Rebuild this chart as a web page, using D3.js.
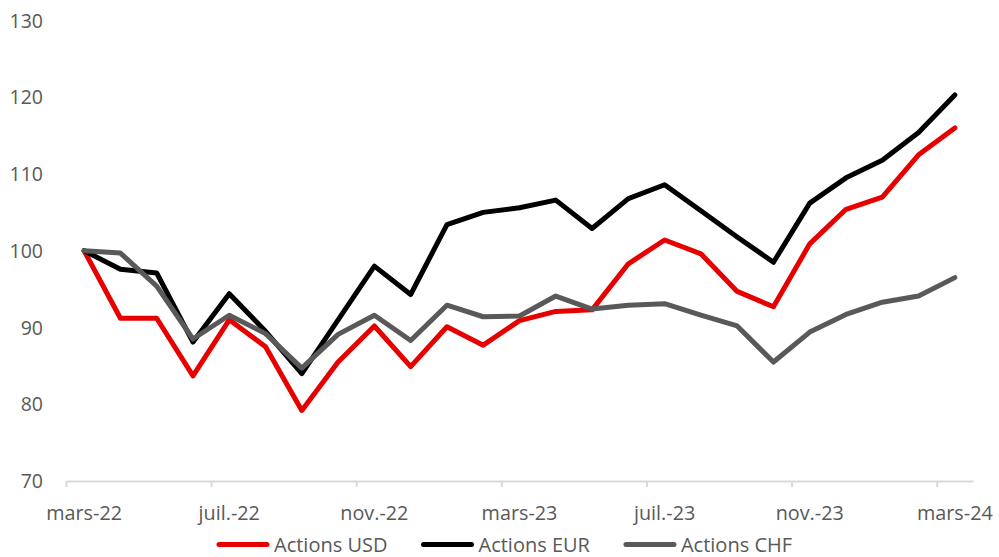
<!DOCTYPE html>
<html>
<head>
<meta charset="utf-8">
<script src="https://cdn.jsdelivr.net/npm/d3@7"></script>
<style>
  body { margin: 0; background: #fff; }
  text { font-family: "Open Sans", sans-serif; fill: #595959; }
</style>
</head>
<body>
<svg id="chart" width="999" height="557"></svg>
<script>
// monthly points, mars-22 .. mars-24
const months = ["mars-22", "avr.-22", "mai-22", "juin-22", "juil.-22", "août-22", "sept.-22", "oct.-22",
  "nov.-22", "déc.-22", "janv.-23", "févr.-23", "mars-23", "avr.-23", "mai-23", "juin-23", "juil.-23",
  "août-23", "sept.-23", "oct.-23", "nov.-23", "déc.-23", "janv.-24", "févr.-24", "mars-24"];

const actionsUSD = [100, 91.2, 91.2, 83.7, 91.0, 87.5, 79.2, 85.5, 90.2, 84.9, 90.1, 87.7, 90.9,
  92.1, 92.3, 98.3, 101.4, 99.6, 94.7, 92.7, 100.9, 105.4, 107.0, 112.5, 116.0];
const actionsEUR = [100, 97.6, 97.1, 88.1, 94.4, 89.5, 84.0, 91.0, 98.0, 94.3, 103.4, 105.0, 105.6,
  106.6, 102.9, 106.8, 108.6, 105.2, 101.8, 98.5, 106.2, 109.5, 111.8, 115.4, 120.3];
const actionsCHF = [100, 99.7, 95.4, 88.5, 91.6, 89.2, 84.7, 89.1, 91.6, 88.3, 92.9, 91.4, 91.5,
  94.1, 92.4, 92.9, 93.1, 91.6, 90.2, 85.5, 89.4, 91.7, 93.3, 94.1, 96.5];

const yTicks = [70, 80, 90, 100, 110, 120, 130];
const tickEvery = 4;

const series = [
  { name: "Actions USD", values: actionsUSD, color: "#e60000" },
  { name: "Actions EUR", values: actionsEUR, color: "#000000" },
  { name: "Actions CHF", values: actionsCHF, color: "#595959" }
];

const svg = d3.select("#chart");

// month slots: point i sits in the middle of slot [i, i+1]
const x = d3.scaleLinear().domain([0, months.length]).range([66, 973]);
const y = d3.scaleLinear().domain([70, 130]).range([481, 20.5]);

// y labels (no axis line, no grid)
svg.append("g")
  .selectAll("text")
  .data(yTicks)
  .enter().append("text")
  .attr("x", 43)
  .attr("y", d => y(d))
  .attr("dy", "0.36em")
  .attr("text-anchor", "end")
  .style("font-size", "19.5px")
  .text(d => d);

// x axis line + tick marks at slot starts
const tickIdx = d3.range(0, months.length, tickEvery);
const xAxis = d3.axisBottom(x)
  .tickValues(tickIdx)
  .tickSize(6)
  .tickSizeOuter(0)
  .tickFormat("");

const gx = svg.append("g")
  .attr("transform", "translate(0," + y(70) + ")")
  .call(xAxis);
gx.select(".domain").attr("stroke", "#d9d9d9").attr("stroke-width", 2);
gx.selectAll(".tick line").attr("stroke", "#d9d9d9").attr("stroke-width", 2);

// x labels centered on the points
svg.append("g")
  .selectAll("text")
  .data(tickIdx)
  .enter().append("text")
  .attr("x", d => x(d + 0.5))
  .attr("y", 520)
  .attr("text-anchor", "middle")
  .style("font-size", "19.8px")
  .text(d => months[d]);

// lines
const line = d3.line()
  .x((d, i) => x(i + 0.5))
  .y(d => y(d));

svg.append("g")
  .selectAll("path")
  .data(series)
  .enter().append("path")
  .attr("d", d => line(d.values))
  .attr("fill", "none")
  .attr("stroke", d => d.color)
  .attr("stroke-width", 5)
  .attr("stroke-linejoin", "round")
  .attr("stroke-linecap", "round");

// legend
const legend = svg.append("g");
let lx = 217;
series.forEach(s => {
  legend.append("line")
    .attr("x1", lx + 2).attr("x2", lx + 50)
    .attr("y1", 544.5).attr("y2", 544.5)
    .attr("stroke", s.color)
    .attr("stroke-width", 5)
    .attr("stroke-linecap", "round");
  const t = legend.append("text")
    .attr("x", lx + 57)
    .attr("y", 552)
    .style("font-size", "20px")
    .text(s.name);
  lx = lx + 57 + t.node().getComputedTextLength() + 34;
});
</script>
</body>
</html>
